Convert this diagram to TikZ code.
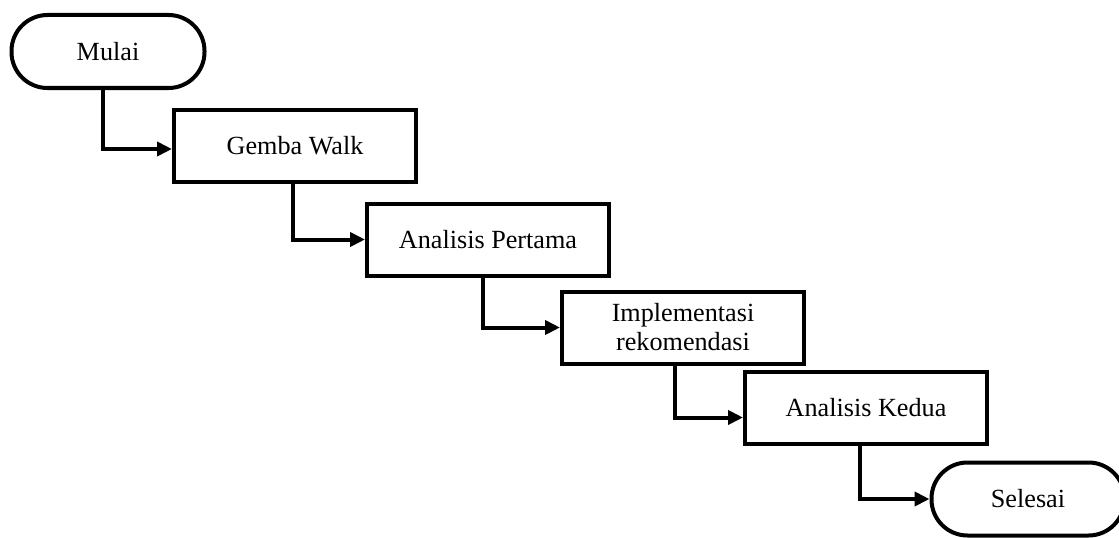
\documentclass[tikz,border=0pt]{standalone}
\usepackage{fontspec}
\setmainfont{Liberation Serif}
\usetikzlibrary{arrows.meta, positioning}

\begin{document}
\begin{tikzpicture}[
        font=\fontsize{14.9}{16.5}\selectfont,
        line width=0.08cm,
        terminal/.style={
            rectangle,
            rounded corners=0.72cm,
            draw,
            minimum width=3.86cm,
            minimum height=1.46cm
        },
        process/.style={
            rectangle,
            draw,
            align=center,
            minimum width=4.84cm,
            minimum height=1.44cm
        },
        flow/.style={
            -{Triangle[length=0.3cm, width=0.28cm]}
        }
    ]

    \useasboundingbox (0, 0) rectangle (22.38, -10.74);

    % Start and end
    \node[terminal] (mulai) at (2.16, -1.03) {Mulai};
    \node[terminal] (selesai) at (20.56, -9.98) {Selesai};

    % Steps
    \node[process] (gemba) at (5.9, -2.92) {Gemba Walk};
    \node[process] (analisis1) at (9.76, -4.79) {Analisis Pertama};
    \node[process] (implementasi) at (13.66, -6.55) {Implementasi\\rekomendasi};
    \node[process] (analisis2) at (17.32, -8.15) {Analisis Kedua};

    % Connectors
    \draw[flow] ([xshift=-0.1cm]mulai.south) |- ([yshift=-0.06cm]gemba.west);
    \draw[flow] ([xshift=-0.04cm]gemba.south) |- (analisis1.west);
    \draw[flow] ([xshift=-0.1cm]analisis1.south) |- (implementasi.west);
    \draw[flow] ([xshift=-0.17cm]implementasi.south) |- ([yshift=-0.2cm]analisis2.west);
    \draw[flow] ([xshift=-0.12cm]analisis2.south) |- (selesai.west);

\end{tikzpicture}
\end{document}
